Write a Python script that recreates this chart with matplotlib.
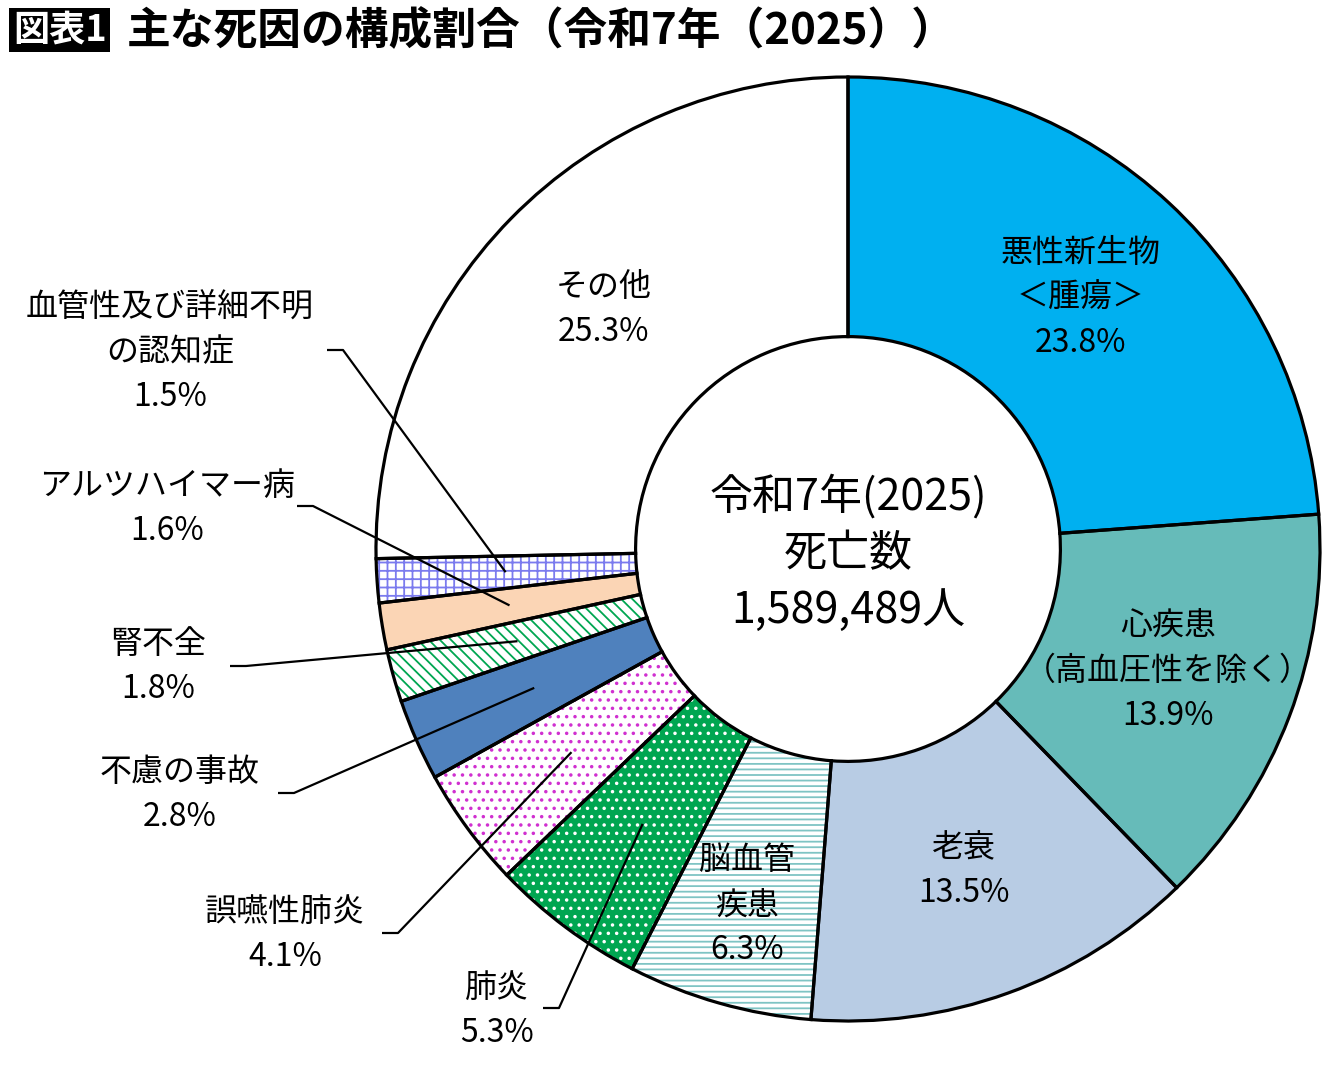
import numpy as np
import matplotlib as mpl
mpl.use('agg')
import matplotlib.pyplot as plt

plt.rcParams['font.family'] = ['Noto Sans CJK JP', 'DejaVu Sans']
plt.rcParams['hatch.linewidth'] = 1.3

# ---- data ----
causes = ['悪性新生物\n＜腫瘍＞', '心疾患\n（高血圧性を除く）', '老衰', '脳血管\n疾患', '肺炎',
          '誤嚥性肺炎', '不慮の事故', '腎不全', 'アルツハイマー病',
          '血管性及び詳細不明\nの認知症', 'その他']
shares = [23.8, 13.9, 13.5, 6.3, 5.3, 4.1, 2.8, 1.8, 1.6, 1.5, 25.3]
total_deaths = '1,589,489'

# ---- styles ----
face = ['#00B0F0', '#66BBB9', '#B8CCE4', 'white', '#00A651', 'white',
        '#4F81BD', 'white', '#FBD5B5', 'white', 'white']
hatch = [None, None, None, '---', '..', '..', None, '\\\\\\', None, '++', None]
hatch_col = [None, None, None, '#7FC4C4', 'white', '#D030D0', None, '#00A651',
             None, '#7B7BEE', None]
# inside labels: radius as fraction of R (None -> outside label)
inside_r = [0.725, 0.725, 0.725, 0.785, None, None, None, None, None, None, 0.725]
# outside labels: text centre (px from top-left) and leader start (px)
outside_txt = {4: (497, 1010), 5: (285, 934), 6: (180, 795), 7: (158, 667),
               8: (167, 508), 9: (170, 352)}
outside_lead = {4: (543, 1008), 5: (382, 933), 6: (278, 793), 7: (230, 666),
                8: (297, 506), 9: (327, 350)}

W, H = 1340, 1069
cx, cy, R = 848, 549, 472
LW = 2.3
FS = 23
PITCH = 45


def Y(py):
    return H - py


fig = plt.figure(figsize=(W / 100, H / 100), dpi=100)
ax = fig.add_axes([0, 0, 1, 1])

wedges, _ = ax.pie(shares, startangle=90, counterclock=False, colors=face,
                   radius=R, center=(cx, Y(cy)),
                   wedgeprops=dict(width=R * 0.55, linewidth=0))
for w, h, hc in zip(wedges, hatch, hatch_col):
    if h:
        w.set_hatch(h)
        w.set_edgecolor(hc)
        w.set_linewidth(0)

# black outlines on top
outl, _ = ax.pie(shares, startangle=90, counterclock=False,
                 radius=R, center=(cx, Y(cy)),
                 wedgeprops=dict(width=R * 0.55, facecolor='none',
                                 edgecolor='black', linewidth=LW))

ax.set_xlim(0, W)
ax.set_ylim(0, H)
ax.set_aspect('equal')
ax.axis('off')


def lines_at(x, yc, lines, fs=FS, pitch=PITCH):
    n = len(lines)
    for i, s in enumerate(lines):
        ax.text(x, Y(yc + (i - (n - 1) / 2) * pitch), s, ha='center',
                va='center', fontsize=fs)


for i, w in enumerate(wedges):
    mid = np.deg2rad((w.theta1 + w.theta2) / 2)
    lines = causes[i].split('\n') + [f'{shares[i]}%']
    if inside_r[i] is not None:
        r = inside_r[i] * R
        lines_at(cx + r * np.cos(mid), cy - r * np.sin(mid), lines)
    else:
        tx, ty = outside_txt[i]
        lines_at(tx, ty, lines)
        lx, ly = outside_lead[i]
        r = 0.727 * R
        ex, ey = cx + r * np.cos(mid), cy - r * np.sin(mid)
        ax.plot([lx, lx + 16, ex], [Y(ly), Y(ly), Y(ey)], color='black',
                lw=1.6, solid_capstyle='butt', zorder=5)

# centre text
lines_at(cx, 554, ['令和7年(2025)', '死亡数', total_deaths + '人'], fs=31, pitch=57)

# title
ax.text(13, Y(30), '図表1', ha='left', va='center', fontsize=26,
        fontweight='bold', color='white',
        bbox=dict(boxstyle='square,pad=0.1', fc='black', ec='none'))
ax.text(127, Y(31), '主な死因の構成割合（令和7年（2025））', ha='left',
        va='center', fontsize=31.5, fontweight='bold')

plt.savefig('out.png', dpi=100)
